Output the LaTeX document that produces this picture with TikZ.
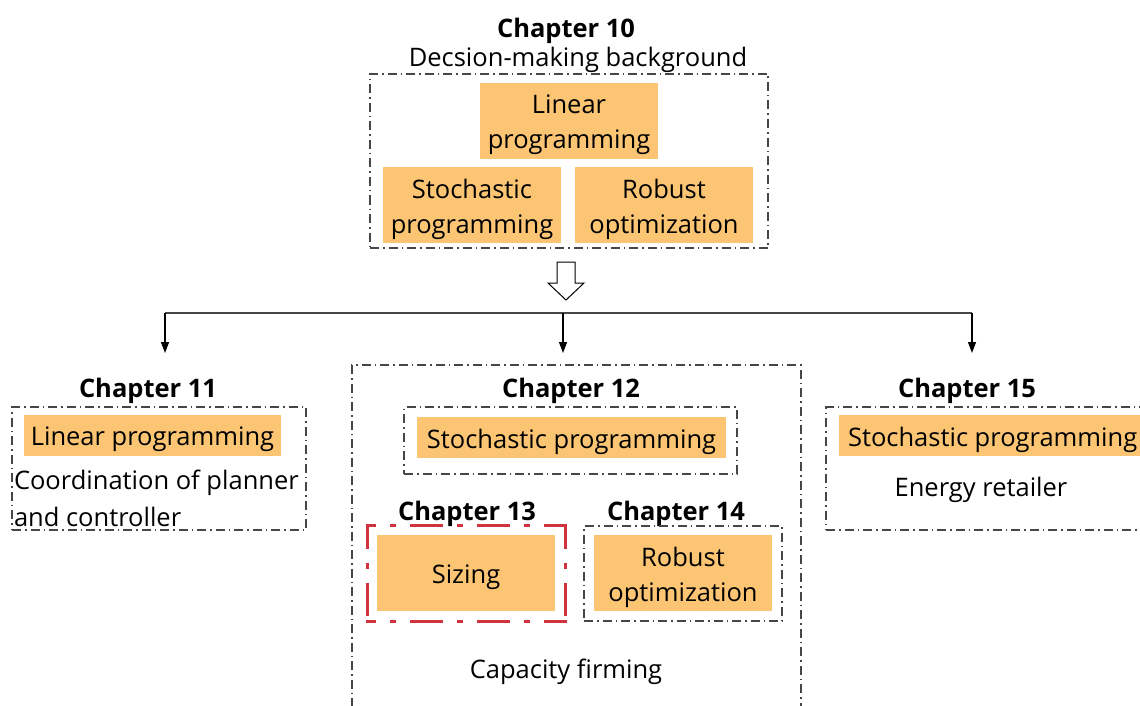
\documentclass[tikz,border=0pt]{standalone}
\usepackage{fontspec}
\setmainfont{Open Sans}
\usetikzlibrary{arrows.meta}
\definecolor{boxorange}{RGB}{252,197,116}
\definecolor{frame}{RGB}{70,70,70}
\definecolor{redframe}{RGB}{208,50,62}
\tikzset{
  x=1pt, y=-1pt,
  every node/.style={font=\fontsize{25.5}{35}\selectfont, inner sep=0pt, outer sep=0pt},
  fillbox/.style={fill=boxorange},
  txt/.style={align=center, yshift=-4pt},
  frm/.style={draw=frame, line width=1.3pt, dash pattern=on 9pt off 4pt on 1.5pt off 4pt},
  redside/.style={draw=redframe, line width=3pt, line cap=rect, dash pattern=on 30pt off 17pt on 3pt off 17pt},
  head/.style={font=\fontsize{25.5}{35}\selectfont\bfseries, yshift=-4pt},
  conn/.style={black, line width=1.2pt, -{Triangle[width=8pt,length=11pt]}}
}
\begin{document}
\begin{tikzpicture}
\useasboundingbox (0,0) rectangle (1140,706);
\clip (0,0) rectangle (1140,706);
% Chapter 10
\node[head] (h10) at (566,27) {Chapter 10};
\node[txt] (d10) at (578,56) {Decsion-making background};
\node[frm, minimum width=398pt, minimum height=174pt] (b10) at (569,161) {};
\node[fillbox, minimum width=178pt, minimum height=76pt] (lp10) at (569,121) {};
\node[txt] (lp10t) at (lp10) {Linear\\programming};
\node[fillbox, minimum width=178pt, minimum height=76pt] (sp10) at (472,205) {};
\node[txt] (sp10t) at (sp10) {Stochastic\\programming};
\node[fillbox, minimum width=178pt, minimum height=76pt] (ro10) at (664,205) {};
\node[txt] (ro10t) at (ro10) {Robust\\optimization};
% hollow arrow
\draw[black, line width=1pt, fill=white] (557,262) -- (575,262) -- (575,283) -- (584,283) -- (566,300) -- (548,283) -- (557,283) -- cycle;
% distribution line
\coordinate (hl) at (165,313);
\coordinate (hr) at (972,313);
\coordinate (hm) at (563,313);
\coordinate (t11) at (165,353);
\coordinate (t12) at (563,353);
\coordinate (t15) at (972,353);
\draw[frame, line width=2pt] (hl) -- (hr);
\draw[conn] (hl) -- (t11);
\draw[conn] (hm) -- (t12);
\draw[conn] (hr) -- (t15);
% Chapter 11
\node[head] (h11) at (148,387) {Chapter 11};
\node[frm, minimum width=294pt, minimum height=123pt] (b11) at (159,468.5) {};
\node[fillbox, minimum width=257pt, minimum height=41pt] (lp11) at (152.5,435.5) {};
\node[txt] (lp11t) at (lp11) {Linear programming};
\node[txt, anchor=west] (c11a) at (14,479) {Coordination of planner};
\node[txt, anchor=west] (c11b) at (14,513) {and controller};
% Chapter 12
\node[frm, minimum width=449pt, minimum height=360pt] (b12) at (576.5,545) {};
\node[head] (h12) at (571,387) {Chapter 12};
\node[frm, minimum width=333pt, minimum height=67pt] (b12i) at (570.5,440.5) {};
\node[fillbox, minimum width=309pt, minimum height=41pt] (sp12) at (571.5,437.5) {};
\node[txt] (sp12t) at (sp12) {Stochastic programming};
% Chapter 13
\node[head] (h13) at (467,510) {Chapter 13};
\node[minimum width=198pt, minimum height=96pt] (b13) at (466,573) {};
\draw[redside, dash phase=23pt] (b13.north west) -- (b13.north east);
\draw[redside, dash phase=23pt] (b13.south west) -- (b13.south east);
\draw[redside, dash phase=8pt] (b13.north west) -- (b13.south west);
\draw[redside, dash phase=8pt] (b13.north east) -- (b13.south east);
\node[fillbox, minimum width=178pt, minimum height=76pt] (sz13) at (466,573) {};
\node[txt] (sz13t) at (sz13) {Sizing};
% Chapter 14
\node[head] (h14) at (676,510) {Chapter 14};
\node[frm, minimum width=198pt, minimum height=95pt] (b14) at (683,573.5) {};
\node[fillbox, minimum width=178pt, minimum height=76pt] (ro14) at (683,573) {};
\node[txt] (ro14t) at (ro14) {Robust\\optimization};
\node[txt] (cf) at (566,668) {Capacity firming};
% Chapter 15
\node[head] (h15) at (967,387) {Chapter 15};
\node[frm, minimum width=340pt, minimum height=123pt] (b15) at (996,468.5) {};
\node[fillbox, minimum width=310pt, minimum height=41pt, anchor=west] (sp15) at (839,435.5) {};
\node[txt, anchor=west] (sp15t) at (848,435.5) {Stochastic programming};
\node[txt] (er15) at (981,486) {Energy retailer};
\end{tikzpicture}
\end{document}
